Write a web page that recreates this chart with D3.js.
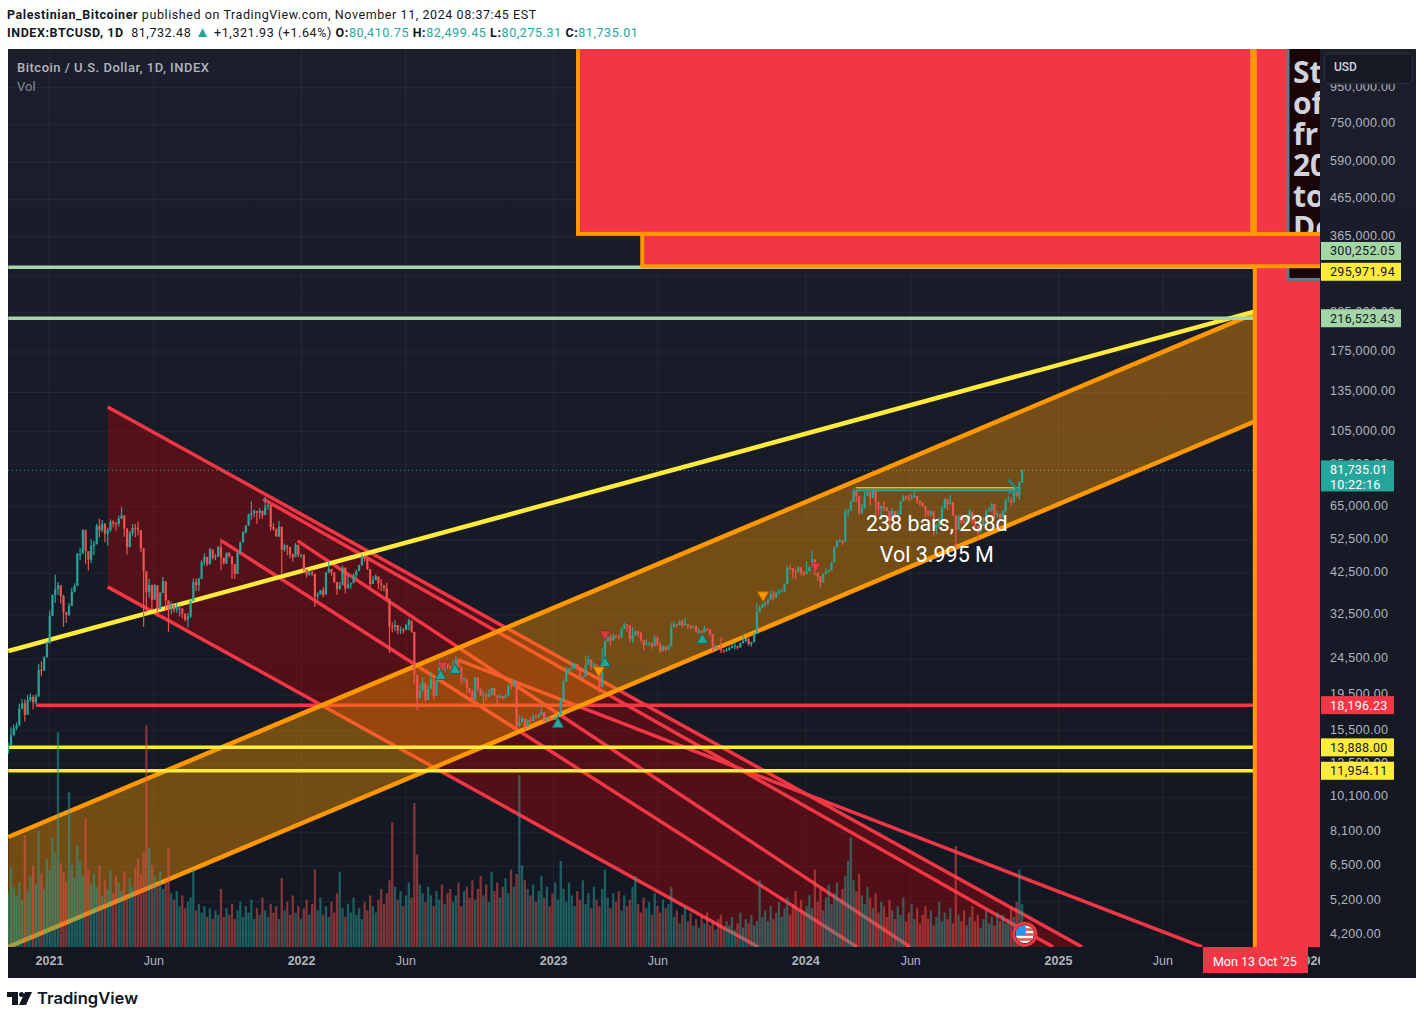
<!DOCTYPE html>
<html>
<head>
<meta charset="utf-8">
<script src="https://cdn.jsdelivr.net/npm/d3@7"></script>
<style>
  html, body { margin: 0; background: #fff; }
  svg { display: block; font-family: Roboto, sans-serif; }
</style>
</head>
<body>
<script>
// one bar every 4 days, prices in thousands of USD, first bar on 2020-11-03
const firstBar = '2020-11-03';
const barStepDays = 4;

const closes = [
  14.0,15.0,15.7,15.95,17.8,18.4,17.1,18.8,19.15,18.55,19.2,22.8,22.7,24.7,27.0,
  32.2,36.8,38.2,39.2,36.6,33.0,32.5,34.3,37.6,39.0,
  47.9,47.9,55.9,48.8,46.2,50.4,50.9,57.3,55.7,58.1,
  54.5,55.8,58.8,58.2,58.0,60.0,61.3,56.4,50.0,54.8,
  56.6,56.4,55.8,49.7,42.9,37.5,39.3,35.7,39.2,33.6,
  37.3,40.2,35.6,33.7,34.6,33.5,33.8,33.8,32.7,31.5,
  32.1,35.4,40.0,39.2,40.8,45.5,47.0,44.8,49.3,46.8,
  47.0,50.0,46.8,45.1,48.1,47.2,44.9,42.2,48.2,51.5,
  55.0,57.4,61.5,62.2,63.1,62.3,63.2,61.4,64.9,65.5,
  56.9,56.3,53.6,57.0,49.2,50.5,50.1,47.7,46.9,50.8,
  47.6,
  47.7,43.4,41.8,42.6,42.2,36.5,36.9,37.9,36.9,42.4,
  43.5,42.6,40.0,38.3,39.2,43.9,38.4,39.4,39.7,41.8,
  42.9,44.5,47.0,46.4,43.5,39.5,40.5,41.5,39.7,39.2,
  38.5,36.0,30.1,30.0,30.4,29.4,29.5,29.4,30.4,31.3,
  29.1,22.1,19.0,19.9,21.0,18.8,20.2,21.5,19.3,21.2,
  23.2,22.6,23.8,23.3,23.2,23.2,24.4,23.3,21.5,21.5,
  20.3,19.8,18.8,21.7,20.2,19.4,19.4,19.2,19.4,20.3,
  19.4,19.1,19.3,19.0,19.3,20.6,20.5,21.3,15.9,16.3,
  16.7,15.8,16.5,16.4,16.9,16.8,17.1,17.4,16.4,16.8,
  16.7,16.55,
  16.85,17.1,18.8,21.1,22.7,22.9,23.0,23.7,22.9,21.8,
  21.8,23.5,24.4,23.2,23.6,22.4,20.4,24.1,27.4,28.1,
  27.5,28.4,28.2,28.0,29.6,30.5,30.4,27.8,28.4,29.2,
  28.9,27.6,26.8,27.0,27.1,26.5,28.0,26.8,25.7,26.5,
  25.9,26.5,30.0,30.5,30.4,31.1,30.3,30.6,30.3,29.9,
  30.1,29.2,29.2,29.0,29.7,29.4,28.7,26.2,26.4,26.1,
  25.9,25.8,25.9,26.2,26.5,26.6,26.3,27.0,27.4,27.9,
  26.9,27.2,28.7,33.0,33.9,34.6,35.0,35.7,37.0,36.2,
  37.4,37.7,37.8,39.5,43.9,43.8,43.0,42.6,44.0,42.5,
  42.1,
  42.8,43.9,46.3,42.5,41.6,39.9,42.1,42.6,43.0,45.3,
  49.9,52.1,52.3,51.6,62.5,63.1,66.8,72.0,69.5,62.0,
  64.0,69.4,71.3,68.5,71.6,67.0,63.8,65.0,64.5,63.1,
  59.1,63.1,60.8,61.6,66.9,69.2,68.5,68.3,69.0,69.4,
  67.3,66.2,65.0,63.2,61.6,62.9,56.7,57.7,59.2,64.1,
  68.1,65.8,66.8,61.4,56.0,60.9,58.7,58.5,60.4,62.9,
  59.1,57.3,54.9,57.3,59.1,62.9,63.3,65.9,61.4,62.0,
  60.5,62.9,67.0,67.4,66.6,72.7,69.4,75.6,81.7
];

const highs = [
  14.3,15.8,16.1,16.3,18.4,18.9,18.9,19.4,19.6,19.4,19.5,23.7,24.1,24.9,27.4,
  33.3,37.0,41.9,40.0,39.0,36.9,33.0,35.0,38.6,39.7,
  48.2,49.7,56.0,54.2,48.3,52.6,52.0,58.1,60.0,59.5,
  58.4,56.6,59.8,59.4,58.9,61.2,64.8,57.5,51.2,55.5,
  57.9,58.0,59.0,51.5,45.8,42.2,40.8,37.2,39.5,36.8,
  37.6,41.3,39.5,35.2,35.3,34.6,35.0,34.5,33.3,32.4,
  32.8,35.9,40.9,40.9,41.2,46.0,48.1,47.0,49.8,49.2,
  47.9,50.5,52.9,46.4,48.4,48.5,45.0,44.2,48.4,51.8,
  55.4,57.6,62.0,67.0,63.7,62.9,64.2,62.8,69.0,66.0,
  60.8,58.3,55.3,59.2,53.5,51.2,50.8,49.4,48.0,51.4,
  50.7,
  47.9,47.6,43.1,43.1,43.4,39.4,37.5,38.0,38.7,42.7,
  45.8,43.3,40.9,39.3,40.0,44.4,39.7,42.0,39.9,42.3,
  43.4,44.8,47.7,47.4,45.5,42.2,41.5,42.0,40.6,40.8,
  39.0,39.8,34.3,30.9,31.4,30.2,30.1,29.8,30.6,31.7,
  30.3,23.3,21.5,20.8,21.8,20.8,20.7,22.5,20.8,21.6,
  24.2,23.0,24.0,23.4,23.4,24.2,24.9,24.4,21.8,21.8,
  20.5,20.1,20.1,21.8,20.4,20.2,19.9,19.7,20.1,20.4,
  19.9,19.2,19.6,19.2,19.6,20.8,20.8,21.4,18.4,17.1,
  17.0,16.3,16.6,16.9,17.2,17.1,17.2,18.3,16.7,16.9,
  16.9,16.6,
  16.9,17.2,19.0,21.4,23.3,23.1,23.9,23.8,23.4,22.2,
  22.0,25.0,25.0,23.9,24.0,23.5,22.1,26.2,28.2,28.5,
  28.6,28.7,28.5,28.6,30.0,30.9,30.5,28.4,30.0,29.4,
  29.3,29.0,27.5,27.7,27.3,26.9,28.4,28.3,27.3,26.8,
  26.4,26.8,30.8,31.2,30.7,31.4,31.4,31.8,30.5,30.0,
  30.3,30.3,29.7,29.4,30.2,29.5,29.7,26.8,26.8,26.2,
  28.1,26.0,26.2,26.5,26.9,27.2,26.4,27.2,28.6,28.0,
  27.4,27.3,29.0,35.0,34.4,34.8,35.3,36.0,37.9,37.9,
  37.6,38.2,38.4,39.7,44.4,44.7,43.4,43.3,44.3,43.6,
  42.8,
  45.5,44.2,48.9,43.3,41.9,40.3,42.2,43.7,43.3,45.6,
  50.3,52.5,52.9,52.0,64.0,63.9,67.5,72.8,71.4,68.1,
  65.9,71.5,71.7,69.8,72.8,71.2,64.4,65.4,67.2,64.7,
  59.5,64.4,62.0,63.1,67.4,70.1,69.5,70.0,70.2,71.9,
  69.5,67.4,66.8,64.5,62.3,63.4,58.4,58.1,60.7,65.3,
  68.4,67.1,69.9,65.5,57.0,61.7,61.6,60.2,61.4,64.0,
  60.2,59.8,56.9,58.0,60.6,63.8,64.7,66.4,64.8,63.1,
  61.3,63.2,68.4,69.5,68.7,73.6,71.5,76.4,82.5
];

const lows = [
  13.3,14.1,15.1,15.5,16.3,17.7,16.4,17.2,18.6,17.7,18.3,19.3,21.9,22.7,25.9,
  29.0,32.5,35.0,36.9,34.9,30.0,30.8,32.2,35.5,37.4,
  44.0,46.0,50.9,45.0,43.1,45.1,47.6,51.3,53.2,55.0,
  51.5,50.5,55.1,56.8,55.6,57.0,59.8,53.5,47.7,50.2,
  53.7,53.3,54.0,48.5,30.0,33.0,36.2,33.6,36.3,32.0,
  35.3,39.5,33.3,29.1,32.5,32.9,32.8,32.1,31.7,31.1,
  29.9,31.8,38.7,37.8,37.7,43.4,44.5,44.3,46.9,46.2,
  46.0,47.3,43.2,44.7,44.9,46.9,40.8,40.8,42.1,49.0,
  53.7,54.5,58.9,59.6,60.6,58.0,60.0,60.1,64.2,63.5,
  55.6,55.6,53.5,53.3,42.2,48.6,47.5,46.5,45.6,48.1,
  46.8,
  46.7,42.5,41.1,41.7,41.5,34.1,35.8,37.3,36.3,40.7,
  43.1,41.7,39.8,36.8,38.0,41.6,37.2,38.6,38.3,40.5,
  41.0,43.7,46.5,45.6,43.2,38.5,39.6,40.6,38.2,37.7,
  37.7,35.7,25.4,29.0,29.2,28.7,28.7,28.8,29.5,29.4,
  28.9,20.9,17.6,19.6,20.6,18.6,19.1,20.6,18.9,20.3,
  22.4,22.4,23.0,22.9,22.7,22.8,23.8,23.2,20.8,21.1,
  19.6,19.6,18.6,21.1,19.8,19.3,18.3,18.7,19.2,19.5,
  19.3,18.2,19.1,18.9,19.1,20.2,20.1,20.9,15.6,15.8,
  16.5,15.5,16.3,16.1,16.7,16.7,16.9,17.1,16.4,16.6,
  16.5,16.5,
  16.7,16.9,18.2,20.8,22.4,22.4,22.9,23.0,22.7,21.5,
  21.4,23.3,24.0,22.8,23.0,22.2,19.7,21.9,26.5,27.2,
  26.6,27.6,27.9,27.7,28.2,30.0,29.1,27.2,27.1,28.9,
  28.2,27.3,25.8,26.7,26.6,26.1,27.8,26.6,25.4,26.1,
  25.7,26.2,28.4,29.9,29.9,30.3,29.9,30.3,29.6,29.5,
  29.7,28.9,28.7,28.6,28.9,29.3,28.3,25.4,25.9,25.9,
  25.4,25.4,25.6,25.8,26.4,26.0,26.0,26.4,27.2,27.2,
  26.6,26.5,28.1,29.9,33.7,34.0,34.1,34.6,36.7,35.5,
  36.0,36.9,37.3,37.5,42.8,43.3,41.0,40.7,43.3,41.7,
  41.6,
  42.2,43.4,44.9,41.8,40.3,38.6,41.4,42.3,42.5,44.4,
  48.1,51.3,51.5,50.7,57.6,60.8,66.0,68.8,66.6,61.6,
  62.8,66.8,69.6,65.1,69.0,60.7,61.3,59.7,62.8,62.9,
  56.6,59.7,60.2,60.8,65.9,68.9,67.6,67.1,67.6,68.5,
  66.1,65.0,64.7,60.5,60.7,60.9,53.5,54.3,56.5,59.0,
  65.7,63.5,66.4,61.1,49.1,58.5,57.8,58.1,57.8,60.7,
  57.9,55.6,52.6,55.6,57.5,60.6,62.6,62.7,60.2,60.3,
  58.9,60.7,62.1,66.8,65.3,66.8,68.9,67.8,79.5
];

const volumes = [
  25,37,28,24,30,22,52,26,33,38,
  29,54,34,27,41,36,51,44,100,39,
  35,30,72,38,32,47,40,33,60,36,
  29,34,28,38,24,31,27,36,25,33,
  30,26,35,24,32,28,37,41,34,44,
  103,46,38,33,29,35,27,31,46,25,
  22,26,19,24,18,21,23,36,17,20,
  16,19,14,18,13,17,15,27,14,18,
  15,20,13,17,21,14,19,16,22,13,
  18,15,23,17,14,20,16,19,13,32,
  17,21,15,24,16,19,13,18,22,15,
  20,36,17,23,15,19,14,21,16,25,
  35,18,14,20,16,23,15,18,13,21,
  17,24,19,16,22,27,20,25,31,58,
  28,22,26,19,24,30,23,67,43,29,
  25,21,28,24,19,26,22,29,20,25,
  27,21,24,30,19,26,28,23,31,22,
  27,33,24,29,21,35,26,30,23,28,
  32,25,36,28,34,80,38,31,27,24,
  29,21,26,33,23,28,19,25,30,22,
  40,27,21,30,24,19,26,22,31,20,
  25,18,28,22,19,27,36,23,18,25,
  21,26,17,24,19,22,28,33,20,16,
  23,18,21,15,25,19,16,22,18,20,
  28,14,17,11,15,19,12,16,10,13,
  9,14,11,16,10,12,8,13,15,9,
  12,10,14,8,11,16,9,13,11,15,
  10,12,31,14,17,12,19,13,16,21,
  14,18,23,15,20,26,17,22,16,19,
  24,18,36,21,27,17,23,29,20,25,
  30,22,27,33,40,51,31,26,34,24,
  20,28,23,18,25,16,21,19,14,22,
  17,13,19,15,23,12,16,20,13,18,
  11,15,19,13,17,10,14,21,12,16,
  13,18,11,47,15,12,17,10,14,19,
  12,15,9,13,17,11,14,10,16,12,
  15,11,13,18,14,21,36,20
];

const priceTicks = [4200,5200,6500,8100,10100,12500,15500,19500,24500,32500,42500,52500,65000,85000,105000,135000,175000,225000,285000,365000,465000,590000,750000,950000];
const timeTicks = ['2021-01-01','2021-06-01','2022-01-01','2022-06-01','2023-01-01','2023-06-01','2024-01-01','2024-06-01','2025-01-01','2025-06-01','2026-01-01'];

// drawings as [date, price] anchors
const redChannelTop = [['2021-03-27',122740],['2025-02-05',3870]];
const redChannelBottom = [['2021-03-27',38790],['2023-10-25',3870]];
const redLines = [
  [['2021-11-07',68120],['2024-12-25',3870]],
  [['2022-08-16',24310],['2025-07-29',3870]],
  [['2021-09-08',52070],['2024-03-16',3870]],
  [['2021-12-27',52070],['2024-06-01',3870]]
];
const orangeTop = [['2020-11-03',7826],['2025-10-11',222600]];
const orangeBottom = [['2020-11-03',3870],['2025-10-11',111450]];
const yellowLine = [['2020-11-03',25740],['2025-10-11',225620]];

const lineEnd = '2025-10-13';
const greenLevels = [300252.05, 216523.43];
const yellowLevels = [13888.00, 11954.11];
const redLevel = 18196.23;
const redLevelStart = '2020-12-13';
const lastPrice = 81735.01;

const upMarks = [['2022-07-22',21900],['2022-08-12',22760],['2023-01-08',16110],['2023-03-17',23800],['2023-08-05',27600]];
const redDownMarks = [['2022-07-25',23500],['2023-03-17',28660],['2024-01-16',44300]];
const orangeDownMarks = [['2023-03-08',22760],['2023-11-01',36800]];

const measureStart = '2024-03-14';
const measureEnd = '2024-11-04';
const measureYellow = 73200;
const measureTeal = 72000;

const boxA = { from: '2023-02-06', to: '2025-10-09', top: 1600000, bottom: 371500 };
const boxB = { from: '2023-05-10', to: '2026-03-01', top: 371500, bottom: 302000 };
const bandFrom = '2025-10-13';
const noteBox = { from: '2025-11-30', to: '2026-03-01', top: 1600000, bottom: 277600 };
const noteLines = ['St','of','fr','20','to','De'];

// value only places the label on the axis, TradingView pushes clashing labels apart
const axisLabels = [
  { text: '300,252.05', value: 333000, fill: '#a5d6a7', color: '#131722', w: 80 },
  { text: '295,971.94', value: 291500, fill: '#ffeb3b', color: '#131722', w: 80 },
  { text: '216,523.43', value: 216523.43, fill: '#a5d6a7', color: '#131722', w: 80 },
  { text: '18,196.23', value: 18196.23, fill: '#f23645', color: '#fff', w: 73 },
  { text: '13,888.00', value: 13888, fill: '#ffeb3b', color: '#131722', w: 73 },
  { text: '11,954.11', value: 11954.11, fill: '#ffeb3b', color: '#131722', w: 73 }
];

const parseDate = d3.utcParse('%Y-%m-%d');
const W = 1424, H = 1019;
const pane = { left: 8, top: 49, right: 1320, bottom: 947, axisRight: 1416, axisBottom: 978 };

const x = d3.scaleUtc().domain([parseDate('2021-01-01'), parseDate('2025-01-01')]).range([49, 1058]);
const y = d3.scaleLog().domain([4200, 950000]).range([934.2, 87.2]);
const volY = d3.scaleLinear().domain([0, 100]).range([pane.bottom, 732]);

const bars = closes.map((c, i) => ({
  date: d3.utcDay.offset(parseDate(firstBar), i * barStepDays),
  open: (i ? closes[i - 1] : 13.55) * 1000,
  close: c * 1000,
  high: highs[i] * 1000,
  low: lows[i] * 1000,
  vol: volumes[i]
}));

const UP = '#26a69a', DOWN = '#ef5350', RED = '#f23645', ORANGE = '#ff9800', YELLOW = '#ffeb3b', GREEN = '#a5d6a7';
const px = a => [x(parseDate(a[0])), y(a[1])];

const svg = d3.select('body').append('svg').attr('width', W).attr('height', H);

const defs = svg.append('defs');
const grad = defs.append('linearGradient').attr('id', 'bg').attr('x1', 0).attr('x2', 0).attr('y1', 0).attr('y2', 1);
grad.append('stop').attr('offset', '0%').attr('stop-color', '#1b1f2b');
grad.append('stop').attr('offset', '100%').attr('stop-color', '#131722');
defs.append('clipPath').attr('id', 'paneClip').append('rect')
  .attr('x', pane.left).attr('y', pane.top)
  .attr('width', pane.right - pane.left).attr('height', pane.bottom - pane.top);

svg.append('rect').attr('x', pane.left).attr('y', pane.top)
  .attr('width', pane.axisRight - pane.left).attr('height', pane.axisBottom - pane.top)
  .attr('fill', 'url(#bg)');

// axes carry the grid too
const grid = 'rgba(255,255,255,0.055)';
const xAxis = d3.axisBottom(x)
  .tickValues(timeTicks.map(parseDate))
  .tickFormat(d => d.getUTCMonth() === 0 ? d3.utcFormat('%Y')(d) : d3.utcFormat('%b')(d))
  .tickSize(-(pane.bottom - pane.top))
  .tickPadding(9);
const xAxisGroup = svg.append('g').attr('transform', `translate(0,${pane.bottom})`).call(xAxis);
xAxisGroup.select('.domain').remove();
xAxisGroup.selectAll('line').attr('stroke', grid);
xAxisGroup.selectAll('text')
  .attr('fill', '#b2b5be')
  .style('font-size', '12.5px')
  .style('font-weight', d => d.getUTCMonth() === 0 ? 600 : 400);
// the 2026 label runs under the price axis
svg.append('rect').attr('x', pane.right).attr('y', pane.bottom + 1)
  .attr('width', pane.axisRight - pane.right).attr('height', pane.axisBottom - pane.bottom - 1)
  .attr('fill', '#131722');

const yAxis = d3.axisRight(y)
  .tickValues(priceTicks)
  .tickFormat(d3.format(',.2f'))
  .tickSize(-(pane.right - pane.left))
  .tickPadding(10);
const yAxisGroup = svg.append('g').attr('transform', `translate(${pane.right},0)`).call(yAxis);
yAxisGroup.select('.domain').remove();
yAxisGroup.selectAll('line').attr('stroke', grid);
yAxisGroup.selectAll('text').attr('fill', '#b2b5be').attr('dy', '2.8px')
  .style('font-size', '12.5px').style('letter-spacing', '0.3px');

const plot = svg.append('g').attr('clip-path', 'url(#paneClip)');
const lineGen = d3.line();

function drawLine(points, color, width) {
  plot.append('path').attr('d', lineGen(points.map(px)))
    .attr('fill', 'none').attr('stroke', color).attr('stroke-width', width);
}

// red channel
plot.append('path')
  .attr('d', lineGen([...redChannelTop.map(px), ...redChannelBottom.map(px).reverse()]) + 'Z')
  .attr('fill', 'rgba(200,0,0,0.34)');
drawLine(redChannelTop, RED, 3.5);
drawLine(redChannelBottom, RED, 3.5);
redLines.forEach(l => drawLine(l, RED, 3.5));
drawLine([[redLevelStart, redLevel], [lineEnd, redLevel]], RED, 3.5);

plot.append('line')
  .attr('x1', pane.left).attr('x2', x(parseDate(lineEnd)))
  .attr('y1', y(lastPrice)).attr('y2', y(lastPrice))
  .attr('stroke', UP).attr('stroke-dasharray', '1 3');

// orange channel
plot.append('path')
  .attr('d', lineGen([...orangeTop.map(px), ...orangeBottom.map(px).reverse()]) + 'Z')
  .attr('fill', 'rgba(255,152,0,0.4)');
drawLine(orangeTop, ORANGE, 4.5);
drawLine(orangeBottom, ORANGE, 4.5);
drawLine(yellowLine, YELLOW, 4.5);

greenLevels.forEach(v => drawLine([['2020-11-03', v], [lineEnd, v]], GREEN, 3.5));
yellowLevels.forEach(v => drawLine([['2020-11-03', v], [lineEnd, v]], YELLOW, 3.5));

// volume
plot.append('g').selectAll('rect').data(bars).join('rect')
  .attr('x', d => x(d.date) - 1.15)
  .attr('width', 2.3)
  .attr('y', d => volY(d.vol))
  .attr('height', d => pane.bottom - volY(d.vol))
  .attr('fill', d => d.close >= d.open ? UP : DOWN)
  .attr('opacity', 0.5);

// candles
const candles = plot.append('g').selectAll('g').data(bars).join('g');
candles.append('line')
  .attr('x1', d => x(d.date)).attr('x2', d => x(d.date))
  .attr('y1', d => y(d.high)).attr('y2', d => y(d.low))
  .attr('stroke-width', 1.2)
  .attr('stroke', d => d.close >= d.open ? UP : DOWN);
candles.append('rect')
  .attr('x', d => x(d.date) - 1.1)
  .attr('width', 2.2)
  .attr('y', d => y(Math.max(d.open, d.close)))
  .attr('height', d => Math.max(1, Math.abs(y(d.open) - y(d.close))))
  .attr('fill', d => d.close >= d.open ? UP : DOWN);

// date range measure
const mx0 = x(parseDate(measureStart)), mx1 = x(parseDate(measureEnd));
plot.append('line').attr('x1', mx0).attr('x2', mx1).attr('y1', y(measureYellow)).attr('y2', y(measureYellow))
  .attr('stroke', '#c9c23a').attr('stroke-width', 1.5);
plot.append('line').attr('x1', mx0).attr('x2', mx1).attr('y1', y(measureTeal)).attr('y2', y(measureTeal))
  .attr('stroke', UP).attr('stroke-width', 2);
plot.append('path')
  .attr('d', `M${mx1 - 10},${y(measureTeal) - 11}L${mx1},${y(measureTeal)}L${mx1 - 10},${y(measureTeal) + 3}`)
  .attr('fill', 'none').attr('stroke', '#1b8f84').attr('stroke-width', 2);
const mid = (mx0 + mx1) / 2;
[['238 bars, 238d', 523], ['Vol 3.995 M', 554]].forEach(([t, ty]) => {
  plot.append('text').attr('x', mid).attr('y', ty).attr('dy', '0.35em')
    .attr('text-anchor', 'middle').attr('fill', '#fff')
    .style('font-size', '21.5px').text(t);
});

// signal triangles
const tri = d3.symbol().type(d3.symbolTriangle).size(55);
function drawMarks(list, fill, stroke, down, alpha) {
  plot.append('g').selectAll('path').data(list).join('path')
    .attr('d', tri)
    .attr('transform', d => `translate(${px(d)}) rotate(${down ? 180 : 0})`)
    .attr('fill', fill).attr('stroke', stroke).attr('stroke-width', 1).attr('opacity', alpha);
}
drawMarks(upMarks, UP, '#0f6b62', false, 1);
drawMarks(redDownMarks, RED, '#9c2030', true, 0.8);
drawMarks(orangeDownMarks, ORANGE, '#b36b00', true, 1);

// earnings style flag on the last bar
const fx = x(parseDate('2024-11-14')), fy = y(4200);
const flag = plot.append('g').attr('transform', `translate(${fx},${fy})`);
defs.append('clipPath').attr('id', 'flagClip').append('circle').attr('r', 9);
flag.append('circle').attr('r', 11).attr('fill', '#131722').attr('stroke', RED).attr('stroke-width', 3);
const flagInner = flag.append('g').attr('clip-path', 'url(#flagClip)');
flagInner.append('rect').attr('x', -9).attr('y', -9).attr('width', 18).attr('height', 18).attr('fill', '#fff');
[-6, -1, 4].forEach(s => flagInner.append('rect').attr('x', -9).attr('y', s).attr('width', 18).attr('height', 2.6).attr('fill', '#ef5350'));
flagInner.append('rect').attr('x', -9).attr('y', -9).attr('width', 10).attr('height', 10).attr('fill', '#2196f3');

// big boxes on the right
const bx = x(parseDate(bandFrom));
plot.append('rect').attr('x', bx).attr('y', pane.top - 5)
  .attr('width', pane.right - bx + 5).attr('height', pane.bottom - pane.top + 10)
  .attr('fill', RED).attr('stroke', ORANGE).attr('stroke-width', 4);

function drawBox(b, fill, stroke, sw) {
  const x0 = x(parseDate(b.from)), x1 = x(parseDate(b.to));
  return plot.append('rect').attr('x', x0).attr('y', y(b.top))
    .attr('width', x1 - x0).attr('height', y(b.bottom) - y(b.top))
    .attr('fill', fill).attr('stroke', stroke).attr('stroke-width', sw);
}
drawBox(noteBox, '#1c0508', '#5d7b8c', 3);
noteLines.forEach((t, i) => {
  plot.append('text').attr('x', x(parseDate(noteBox.from)) + 5).attr('y', 72 + i * 31).attr('dy', '0.35em')
    .attr('fill', '#d1d4dc').style('font-size', '30px').style('font-weight', 700)
    .style('font-family', '"Open Sans", sans-serif').text(t);
});
drawBox(boxA, RED, ORANGE, 4);
drawBox(boxB, RED, ORANGE, 4);

// price labels on the axis
const labels = svg.append('g');
axisLabels.forEach(l => {
  const ly = y(l.value);
  labels.append('rect').attr('x', pane.right + 1).attr('y', ly - 9).attr('width', l.w).attr('height', 18).attr('fill', l.fill);
  labels.append('text').attr('x', pane.right + 10).attr('y', ly).attr('dy', '0.35em')
    .attr('fill', l.color).style('font-size', '12.5px').style('letter-spacing', '0.3px').text(l.text);
});
const lastY = y(lastPrice);
labels.append('rect').attr('x', pane.right + 1).attr('y', lastY - 10).attr('width', 73).attr('height', 31).attr('fill', UP);
labels.append('text').attr('x', pane.right + 10).attr('y', lastY - 1).attr('dy', '0.35em')
  .attr('fill', '#fff').style('font-size', '12.5px').style('letter-spacing', '0.3px').text('81,735.01');
labels.append('text').attr('x', pane.right + 10).attr('y', lastY + 14).attr('dy', '0.35em')
  .attr('fill', '#fff').style('font-size', '12.5px').style('letter-spacing', '0.3px').text('10:22:16');

// USD selector
labels.append('rect').attr('x', 1324.5).attr('y', 53.5).attr('width', 88).attr('height', 30).attr('rx', 4)
  .attr('fill', '#161a25').attr('stroke', '#2a2e39').attr('stroke-width', 1.5);
labels.append('text').attr('x', 1334).attr('y', 67).attr('dy', '0.35em').attr('fill', '#d1d4dc')
  .style('font-size', '12px').style('font-weight', 500).text('USD');

// crosshair date label
svg.append('rect').attr('x', 1203).attr('y', pane.bottom).attr('width', 105).attr('height', 26).attr('fill', RED);
svg.append('text').attr('x', bx).attr('y', 962).attr('dy', '0.35em').attr('text-anchor', 'middle')
  .attr('fill', '#fff').style('font-size', '12.5px').text("Mon 13 Oct '25");

// pane legend
svg.append('text').attr('x', 17).attr('y', 67).attr('dy', '0.35em').attr('fill', '#b2b5be')
  .style('font-size', '13px').style('font-weight', 500).style('letter-spacing', '0.5px').text('Bitcoin / U.S. Dollar, 1D, INDEX');
svg.append('text').attr('x', 17).attr('y', 86).attr('dy', '0.35em').attr('fill', '#868993')
  .style('font-size', '13px').text('Vol');

// header lines
const head = 'font-size:12.5px;fill:#131722;letter-spacing:0.58px';
const line1 = svg.append('text').attr('x', 7).attr('y', 15).attr('dy', '0.35em').attr('style', head);
line1.append('tspan').style('font-weight', 700).text('Palestinian_Bitcoiner');
line1.append('tspan').text(' published on TradingView.com, November 11, 2024 08:37:45 EST');

const line2 = svg.append('text').attr('x', 7).attr('y', 33).attr('dy', '0.35em').attr('style', head);
line2.append('tspan').style('font-weight', 700).text('INDEX:BTCUSD, 1D');
line2.append('tspan').text('\u00A0\u00A081,732.48 ');
line2.append('tspan').style('fill', UP).style('font-size', '15px').text('▲');
line2.append('tspan').text(' +1,321.93 (+1.64%) ');
[['O:', '80,410.75'], ['H:', '82,499.45'], ['L:', '80,275.31'], ['C:', '81,735.01']].forEach(([k, v]) => {
  line2.append('tspan').style('font-weight', 700).text(k);
  line2.append('tspan').style('fill', UP).text(v + ' ');
});

// logo
const logo = svg.append('g').attr('fill', '#131722');
logo.append('path').attr('d', 'M7,992H18V1005H12V997H7Z');
logo.append('circle').attr('cx', 21.5).attr('cy', 994.5).attr('r', 2.5);
logo.append('path').attr('d', 'M25,992H32L26,1005H19Z');
svg.append('text').attr('x', 37).attr('y', 998).attr('dy', '0.35em').attr('fill', '#131722')
  .style('font-size', '16.6px').style('font-weight', 600).style('font-family', 'Inter, sans-serif').text('TradingView');
</script>
</body>
</html>
